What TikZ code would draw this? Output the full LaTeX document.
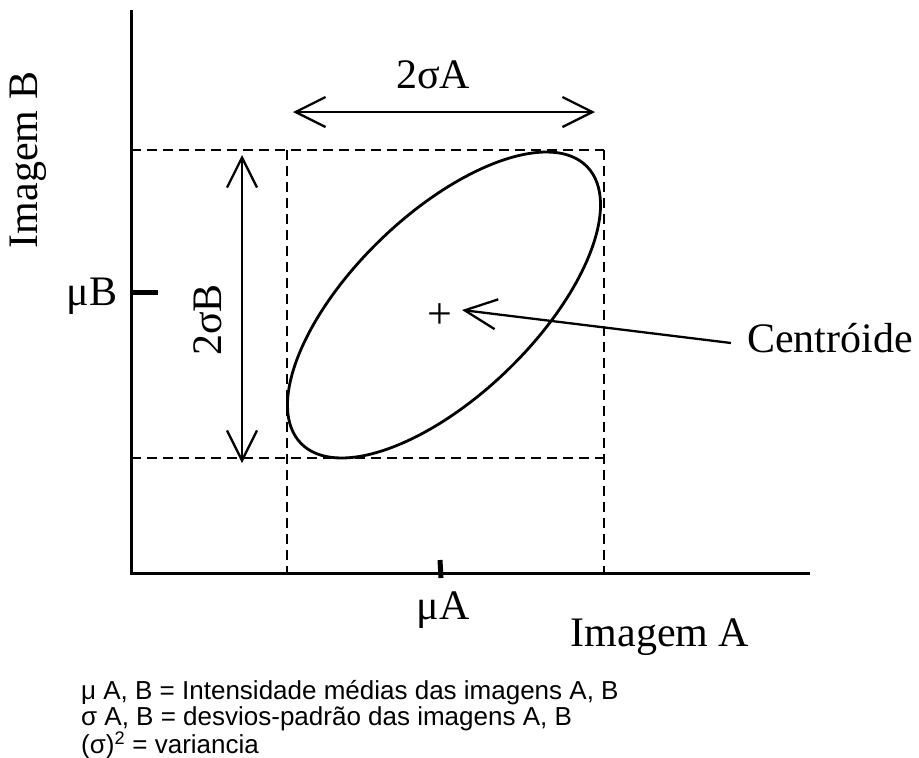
\documentclass[tikz,border=0pt]{standalone}
\usepackage{fontspec}
\setmainfont{Liberation Serif}
\newfontfamily\arialfont{Liberation Sans}
\usetikzlibrary{arrows.meta}
\tikzset{
  axisline/.style={line width=3pt},
  guide/.style={line width=2.4pt, dash pattern=on 10pt off 6pt},
  tickmark/.style={line width=5pt},
  dimarrow/.style={line width=2.3pt, {Straight Barb[length=30pt,width=30pt]}-{Straight Barb[length=30pt,width=30pt]}},
  ptrarrow/.style={line width=2.3pt, -{Straight Barb[length=32pt,width=30pt]}},
  lbl/.style={font=\fontsize{42}{46}\selectfont, inner sep=0pt},
  note/.style={font=\arialfont\fontsize{26}{26.5}\selectfont, inner sep=0pt, align=left},
}
\begin{document}
\begin{tikzpicture}[x=1pt,y=1pt]
\useasboundingbox (0,0) rectangle (919,-758);
% axes
\coordinate (O) at (131,-573);
\coordinate (ytop) at (131,-10);
\coordinate (xend) at (810,-573);
\draw[axisline] (ytop) -- (O) -- (xend);
% guide box
\coordinate (tl) at (131,-150);
\coordinate (tr) at (604,-150);
\coordinate (bl) at (131,-458);
\coordinate (br) at (604,-458);
\coordinate (vl1) at (287,-150);
\coordinate (vl2) at (287,-573);
\coordinate (vr2) at (604,-573);
\draw[guide] (tl) -- (tr);
\draw[guide] (bl) -- (br);
\draw[guide] (vl1) -- (vl2);
\draw[guide] (tr) -- (vr2);
% ellipse
\draw[line width=2.8pt] (444,-305) ellipse[x radius=199, y radius=91, rotate=44];
% dimension arrows
\coordinate (ha1) at (293,-112);
\coordinate (ha2) at (595,-112);
\draw[dimarrow] (ha1) -- (ha2);
\node[lbl] (sigA) at (433,-75) {2σA};
\coordinate (va1) at (242,-155);
\coordinate (va2) at (242,-463);
\draw[dimarrow] (va1) -- (va2);
\node[lbl, rotate=90] (sigB) at (208,-320) {2σB};
% ticks
\coordinate (tb1) at (131,-292);
\coordinate (tb2) at (158,-292);
\draw[tickmark] (tb1) -- (tb2);
\coordinate (ta1) at (440,-560);
\coordinate (ta2) at (441,-578);
\draw[tickmark] (ta1) -- (ta2);
\node[lbl] (muB) at (92,-296) {μB};
\node[lbl] (muA) at (443,-610) {μA};
% axis titles
\node[lbl] (imgA) at (660,-637) {Imagem A};
\node[lbl, rotate=90] (imgB) at (28,-160) {Imagem B};
% centroid
\node[lbl, font=\fontsize{44}{46}\selectfont] (plus) at (440,-316) {+};
\node[lbl, anchor=west] (cent) at (747,-338) {Centróide};
\coordinate (ctail) at (731,-343);
\coordinate (chead) at (462,-310);
\draw[ptrarrow] (ctail) -- (chead);
% notes
\node[note, anchor=north west] (notes) at (81,-680) {μ A, B = Intensidade médias das imagens A, B\\σ A, B = desvios-padrão das imagens A, B\\(σ)\textsuperscript{2} = variancia};
\end{tikzpicture}
\end{document}
